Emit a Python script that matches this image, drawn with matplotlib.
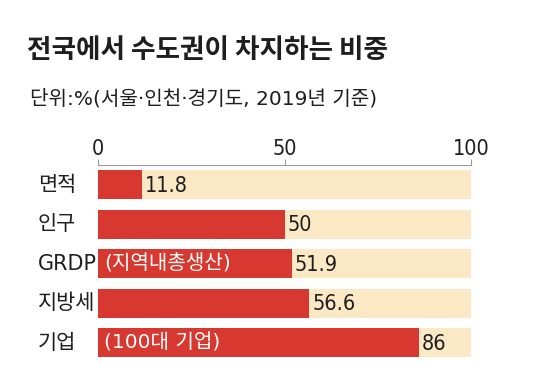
import matplotlib
matplotlib.use("Agg")
import matplotlib.pyplot as plt
from matplotlib import font_manager

# 데이터
categories = ["면적", "인구", "GRDP", "지방세", "기업"]
values = [11.8, 50, 51.9, 56.6, 86]
value_labels = ["11.8", "50", "51.9", "56.6", "86"]
inner_notes = ["", "", "(지역내총생산)", "", "(100대 기업)"]
ticks = [0, 50, 100]

title = "전국에서 수도권이 차지하는 비중"
subtitle = "단위:%(서울·인천·경기도, 2019년 기준)"

RED = "#d7382f"
BEIGE = "#fbe8c5"
INK = "#1e1e1e"
KR = "Noto Sans CJK KR"

# 숫자용 좁은 글꼴 찾기
names = {(f.name, str(f.stretch)) for f in font_manager.fontManager.ttflist}
if any(n == "Liberation Sans Narrow" for n, _ in names):
    num_font = dict(family=["Liberation Sans Narrow", KR], stretch="normal")
elif ("DejaVu Sans", "condensed") in names or ("DejaVu Sans", "semi-condensed") in names:
    num_font = dict(family=["DejaVu Sans", KR], stretch="condensed")
else:
    num_font = dict(family=["Roboto", KR], stretch="normal")

plt.rcParams["font.family"] = [KR, "DejaVu Sans"]

fig = plt.figure(figsize=(5.59, 3.86), dpi=100)
fig.patch.set_facecolor("white")

W, H = 559, 386
ax = fig.add_axes([98 / W, 1 - 362.5 / H, 373 / W, 197.5 / H])

y = list(range(len(categories)))
ax.barh(y, [100] * len(values), height=0.74, color=BEIGE, zorder=1)
ax.barh(y, values, height=0.74, color=RED, zorder=2)

for i, v in enumerate(values):
    ax.text(v + 0.8, i + 0.03, value_labels[i], va="center", ha="left",
            fontsize=15.5, color=INK, zorder=3, **num_font)
    if inner_notes[i]:
        ax.text(1.6, i, inner_notes[i], va="center", ha="left",
                fontsize=14.5, color="white", zorder=3,
                family=num_font["family"][:1] + [KR])

ax.set_xlim(0, 100)
ax.set_ylim(4.5, -0.5)
ax.set_yticks([])
ax.set_xticks(ticks)
ax.set_xticklabels([str(t) for t in ticks], **num_font)
ax.xaxis.tick_top()
ax.tick_params(axis="x", direction="out", length=4, width=0.8, color="#9a9a9a",
               labelsize=15.5, labelcolor=INK, pad=0)
for s in ["left", "right", "bottom"]:
    ax.spines[s].set_visible(False)
ax.spines["top"].set_color("#9a9a9a")
ax.spines["top"].set_linewidth(0.8)
ax.patch.set_alpha(0)

# 항목 이름
for i, c in enumerate(categories):
    yy = ax.transData.transform((0, i))[1]
    fig.text(38 / W, yy / (fig.dpi * 3.86), c, ha="left", va="center",
             fontsize=15, color=INK, family=[num_font["family"][0], KR])

fig.text(27 / W, 1 - 50 / H, title, ha="left", va="center",
         fontsize=19.2, fontweight="bold", color=INK)
fig.text(30 / W, 1 - 99 / H, subtitle, ha="left", va="center",
         fontsize=14.5, color=INK, family=[num_font["family"][0], KR])

fig.savefig("out.png", dpi=100)
